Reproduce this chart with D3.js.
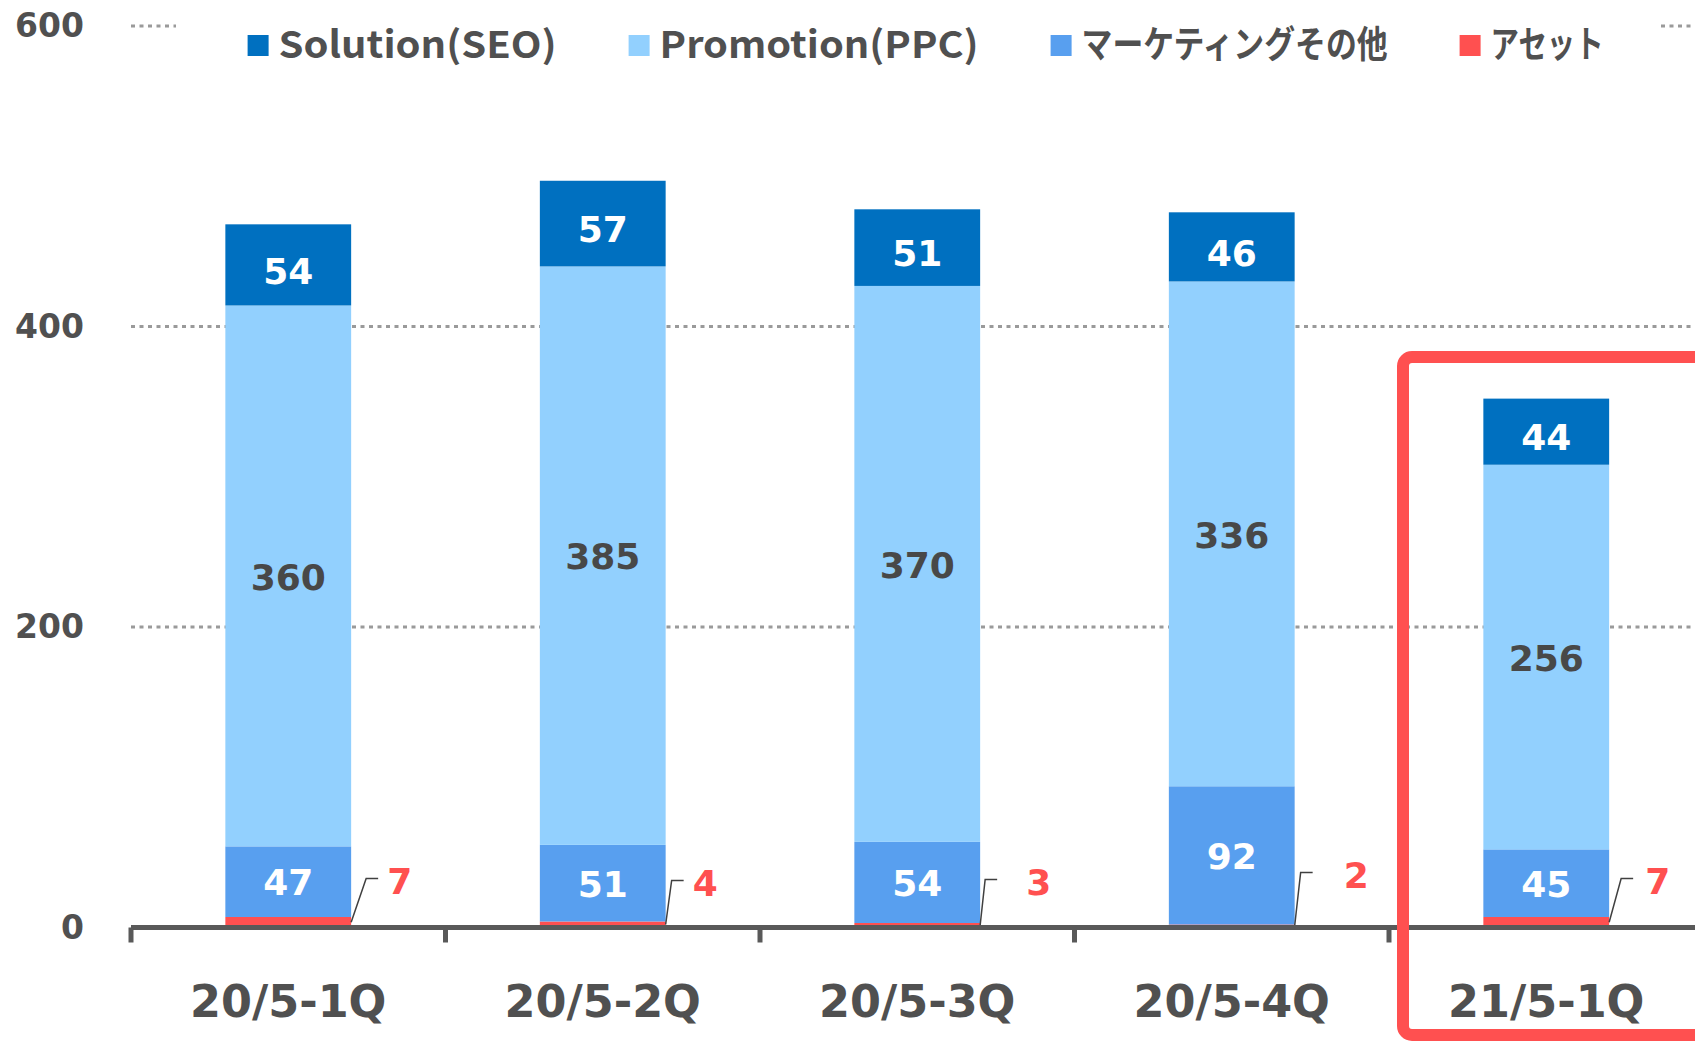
<!DOCTYPE html>
<html>
<head>
<meta charset="utf-8">
<script src="https://cdn.jsdelivr.net/npm/d3@7/dist/d3.min.js"></script>
<style>
  html, body { margin: 0; padding: 0; background: #fff; overflow: hidden; }
  svg { display: block; }
</style>
</head>
<body>
<div id="chart"></div>
<script>
// data
const categories = ["20/5-1Q", "20/5-2Q", "20/5-3Q", "20/5-4Q", "21/5-1Q"];
const asset = [7, 4, 3, 2, 7];
const marketing = [47, 51, 54, 92, 45];
const promotion = [360, 385, 370, 336, 256];
const solution = [54, 57, 51, 46, 44];
const seriesNames = ["Solution(SEO)", "Promotion(PPC)", "マーケティングその他", "アセット"];
const yTicks = [0, 200, 400, 600];

// nudges for the small asset callouts (label dx from bar edge, elbow dx, elbow rise)
const calloutDx = [36, 27, 46, 49, 36];
const elbowDx = [15, 6, 5, 6, 12];
const elbowRise = [49, 47, 48, 55, 49];
// legend text widths, the original font runs narrower for kana
const legendWidths = [278, 319, 306, 113];

const w = 1695, h = 1041;
const gray = "#505050";
const colors = {
    solution: "#0070c0",
    promotion: "#92d0fe",
    marketing: "#589fef",
    asset: "#ff5050"
};
const numFont = "'DejaVu Sans', Verdana, sans-serif";

const rows = categories.map((c, i) => ({
    cat: c,
    asset: asset[i],
    marketing: marketing[i],
    promotion: promotion[i],
    solution: solution[i]
}));
const keys = ["asset", "marketing", "promotion", "solution"];
const stacked = d3.stack().keys(keys)(rows);

const x = d3.scaleBand()
    .domain(categories)
    .range([131, 131 + 5 * 314.5])
    .paddingInner(0.6)
    .paddingOuter(0.3);

const y = d3.scaleLinear().domain([0, 600]).range([927.5, 26]);

const svg = d3.select("#chart").append("svg")
    .attr("width", w)
    .attr("height", h);

// dotted grid
svg.append("g")
    .selectAll("line")
    .data(yTicks.filter(d => d > 0))
    .enter()
    .append("line")
    .attr("x1", 131)
    .attr("x2", w)
    .attr("y1", d => y(d))
    .attr("y2", d => y(d))
    .attr("stroke", "#9a9a9a")
    .attr("stroke-width", 3)
    .attr("stroke-dasharray", "4 4.5");

// y labels
const yAxis = svg.append("g")
    .attr("transform", "translate(84,0)")
    .call(d3.axisLeft(y).tickValues(yTicks).tickSize(0).tickPadding(0));
yAxis.select(".domain").remove();
yAxis.selectAll("text")
    .attr("fill", gray)
    .style("font", `bold 33px ${numFont}`);

// bars
const layers = svg.append("g")
    .selectAll("g")
    .data(stacked)
    .enter()
    .append("g")
    .attr("fill", d => colors[d.key]);

layers.selectAll("rect")
    .data(d => d)
    .enter()
    .append("rect")
    .attr("x", d => x(d.data.cat))
    .attr("y", d => y(d[1]))
    .attr("width", x.bandwidth())
    .attr("height", d => y(d[0]) - y(d[1]));

// labels inside segments
const labelColor = { solution: "#fff", promotion: "#484848", marketing: "#fff" };
const labelShift = { solution: 5, promotion: 0, marketing: 0 };
stacked.filter(s => s.key !== "asset").forEach(s => {
    svg.append("g")
        .selectAll("text")
        .data(s)
        .enter()
        .append("text")
        .attr("x", d => x(d.data.cat) + x.bandwidth() / 2)
        .attr("y", d => (y(d[0]) + y(d[1])) / 2 + labelShift[s.key])
        .attr("dy", "0.38em")
        .attr("text-anchor", "middle")
        .attr("fill", labelColor[s.key])
        .style("font", `bold 36px ${numFont}`)
        .text(d => d.data[s.key]);
});

// asset callouts
const assetLayer = stacked.find(s => s.key === "asset");
const callouts = svg.append("g");
assetLayer.forEach((d, i) => {
    const bx = x(d.data.cat) + x.bandwidth();
    const by = (y(d[0]) + y(d[1])) / 2;
    const ey = y(0) - elbowRise[i];
    callouts.append("path")
        .attr("d", `M${bx},${by}L${bx + elbowDx[i]},${ey}H${bx + elbowDx[i] + 12}`)
        .attr("fill", "none")
        .attr("stroke", "#404040")
        .attr("stroke-width", 1.5);
    callouts.append("text")
        .attr("x", bx + calloutDx[i])
        .attr("y", ey + 3)
        .attr("dy", "0.36em")
        .attr("fill", colors.asset)
        .style("font", `bold 36px ${numFont}`)
        .text(d.data.asset);
});

// x axis: heavy baseline, ticks at band edges, labels under bars
const edge = (x.step() - x.bandwidth()) / 2;
const base = svg.append("g");
base.append("line")
    .attr("x1", 131)
    .attr("x2", w)
    .attr("y1", y(0))
    .attr("y2", y(0))
    .attr("stroke", "#595959")
    .attr("stroke-width", 5);
base.selectAll(".tick-mark")
    .data(categories)
    .enter()
    .append("line")
    .attr("class", "tick-mark")
    .attr("x1", d => x(d) - edge)
    .attr("x2", d => x(d) - edge)
    .attr("y1", y(0))
    .attr("y2", y(0) + 15)
    .attr("stroke", "#595959")
    .attr("stroke-width", 5);

const xAxis = svg.append("g")
    .attr("transform", `translate(0,${y(0)})`)
    .call(d3.axisBottom(x).tickSize(0).tickPadding(58));
xAxis.select(".domain").remove();
xAxis.selectAll("text")
    .attr("fill", gray)
    .style("font", `bold 44.5px ${numFont}`);

// legend on a white strip over the top grid line
const legend = svg.append("g");
legend.append("rect")
    .attr("x", 176)
    .attr("y", 0)
    .attr("width", 1660 - 176)
    .attr("height", 70)
    .attr("fill", "#fff");
const legendKeys = ["solution", "promotion", "marketing", "asset"];
let lx = 247.6;
seriesNames.forEach((name, i) => {
    legend.append("rect")
        .attr("x", lx)
        .attr("y", 35)
        .attr("width", 21)
        .attr("height", 21)
        .attr("fill", colors[legendKeys[i]]);
    legend.append("text")
        .attr("x", lx + 31)
        .attr("y", 45)
        .attr("dy", "0.36em")
        .attr("fill", gray)
        .attr("textLength", legendWidths[i])
        .attr("lengthAdjust", "spacingAndGlyphs")
        .style("font", "bold 37px 'Noto Sans CJK JP', 'Noto Sans', sans-serif")
        .text(name);
    lx += 31 + legendWidths[i] + 72;
});

// highlight frame around the latest quarter
svg.append("rect")
    .attr("x", 1403)
    .attr("y", 357)
    .attr("width", 400)
    .attr("height", 678)
    .attr("rx", 9)
    .attr("fill", "none")
    .attr("stroke", "#ff5050")
    .attr("stroke-width", 12);
</script>
</body>
</html>
